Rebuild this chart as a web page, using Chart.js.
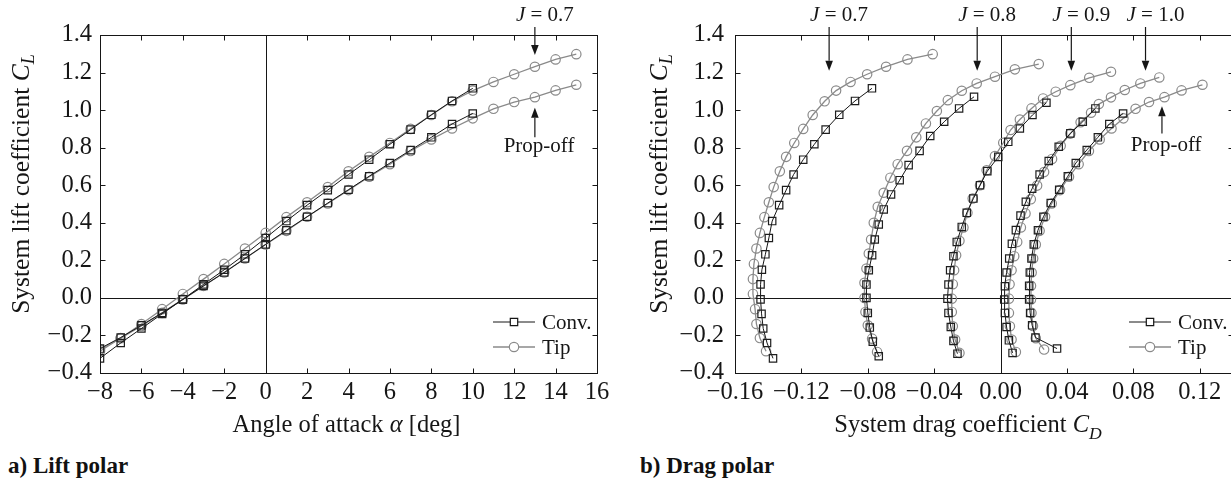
<!DOCTYPE html>
<html>
<head>
<meta charset="utf-8">
<title>Lift and drag polars</title>
<script src="https://cdn.jsdelivr.net/npm/chart.js@4.4.1/dist/chart.umd.min.js"></script>
<style>
  html, body { margin: 0; padding: 0; background: #fff; overflow: hidden; width: 1231px; height: 483px; }
  .pane { position: absolute; top: 0; }
  #lift-pane { left: 0; }
  #drag-pane { left: 620px; }
  .caption { position: absolute; top: 454px; font: bold 23px "Liberation Serif", serif; color: #111; line-height: 1; }
</style>
</head>
<body>
<div class="pane" id="lift-pane"><canvas id="lift" width="620" height="445"></canvas></div>
<div class="pane" id="drag-pane"><canvas id="drag" width="620" height="445"></canvas></div>
<div class="caption" style="left:8px">a) Lift polar</div>
<div class="caption" style="left:640px">b) Drag polar</div>
<script>
// angle of attack sweeps
const alphaConv = [-8, -7, -6, -5, -4, -3, -2, -1, 0, 1, 2, 3, 4, 5, 6, 7, 8, 9, 10];
const alphaTip = [-8, -7, -6, -5, -4, -3, -2, -1, 0, 1, 2, 3, 4, 5, 6, 7, 8, 9, 10, 11, 12, 13, 14, 15];

// J = 0.7
const clConvJ07 = [-0.322, -0.240, -0.163, -0.085, -0.008, 0.072, 0.150, 0.232, 0.319, 0.409, 0.494, 0.574, 0.657, 0.736, 0.818, 0.896, 0.975, 1.049, 1.116];
const cdConvJ07 = [-0.1371, -0.1407, -0.1430, -0.1440, -0.1446, -0.1446, -0.1438, -0.1417, -0.1396, -0.1376, -0.1334, -0.1292, -0.1247, -0.1189, -0.1122, -0.1054, -0.0972, -0.0877, -0.0775];
const clTipJ07 = [-0.284, -0.214, -0.139, -0.060, 0.021, 0.100, 0.181, 0.263, 0.346, 0.430, 0.509, 0.590, 0.674, 0.751, 0.825, 0.900, 0.974, 1.047, 1.104, 1.150, 1.191, 1.231, 1.270, 1.298];
const cdTipJ07 = [-0.1413, -0.1450, -0.1471, -0.1479, -0.1492, -0.1492, -0.1486, -0.1471, -0.1450, -0.1423, -0.1396, -0.1367, -0.1330, -0.1292, -0.1243, -0.1189, -0.1132, -0.1060, -0.0991, -0.0904, -0.0804, -0.0690, -0.0561, -0.0409];

// J = 0.8
const clConvJ08 = [-0.311, -0.233, -0.158, -0.080, 0.000, 0.071, 0.147, 0.227, 0.311, 0.391, 0.471, 0.551, 0.627, 0.707, 0.783, 0.862, 0.938, 1.009, 1.071];
const cdConvJ08 = [-0.0734, -0.0770, -0.0788, -0.0800, -0.0808, -0.0808, -0.0794, -0.0774, -0.0758, -0.0734, -0.0704, -0.0660, -0.0608, -0.0554, -0.0488, -0.0424, -0.0340, -0.0250, -0.0160];
const clTipJ08 = [-0.288, -0.217, -0.146, -0.075, 0.000, 0.080, 0.156, 0.236, 0.311, 0.400, 0.485, 0.560, 0.640, 0.712, 0.783, 0.855, 0.929, 0.995, 1.053, 1.103, 1.142, 1.178, 1.217, 1.245];
const cdTipJ08 = [-0.0744, -0.0774, -0.0800, -0.0814, -0.0820, -0.0820, -0.0808, -0.0794, -0.0780, -0.0764, -0.0740, -0.0704, -0.0664, -0.0620, -0.0564, -0.0508, -0.0450, -0.0384, -0.0318, -0.0234, -0.0144, -0.0034, 0.0086, 0.0230];

// J = 0.9
const clConvJ09 = [-0.297, -0.229, -0.155, -0.080, -0.004, 0.071, 0.147, 0.222, 0.298, 0.378, 0.453, 0.529, 0.600, 0.675, 0.751, 0.831, 0.902, 0.974, 1.039];
const cdConvJ09 = [-0.0260, -0.0284, -0.0300, -0.0314, -0.0320, -0.0314, -0.0304, -0.0284, -0.0264, -0.0234, -0.0204, -0.0164, -0.0124, -0.0080, -0.0014, 0.0046, 0.0116, 0.0192, 0.0276];
const clTipJ09 = [-0.293, -0.222, -0.151, -0.075, -0.004, 0.073, 0.147, 0.227, 0.304, 0.375, 0.453, 0.529, 0.600, 0.680, 0.755, 0.826, 0.894, 0.950, 1.009, 1.062, 1.098, 1.133, 1.172, 1.204];
const cdTipJ09 = [-0.0248, -0.0274, -0.0288, -0.0294, -0.0294, -0.0288, -0.0280, -0.0268, -0.0248, -0.0224, -0.0200, -0.0168, -0.0124, -0.0084, -0.0034, 0.0016, 0.0060, 0.0116, 0.0186, 0.0256, 0.0332, 0.0420, 0.0534, 0.0665];

// J = 1.0
const clConvJ10 = [-0.293, -0.226, -0.155, -0.080, -0.009, 0.062, 0.135, 0.210, 0.288, 0.361, 0.438, 0.512, 0.582, 0.657, 0.729, 0.805, 0.876, 0.938, 1.009];
const cdConvJ10 = [0.0072, 0.0050, 0.0036, 0.0026, 0.0022, 0.0026, 0.0036, 0.0052, 0.0068, 0.0092, 0.0120, 0.0152, 0.0190, 0.0235, 0.0290, 0.0350, 0.0420, 0.0495, 0.0571];
const clTipJ10 = [-0.288, -0.222, -0.151, -0.080, -0.004, 0.072, 0.147, 0.222, 0.298, 0.375, 0.450, 0.525, 0.598, 0.670, 0.740, 0.810, 0.875, 0.935, 0.986, 1.032, 1.068, 1.107, 1.142, 1.174];
const cdTipJ10 = [0.0092, 0.0066, 0.0056, 0.0050, 0.0050, 0.0054, 0.0066, 0.0082, 0.0100, 0.0122, 0.0150, 0.0182, 0.0220, 0.0262, 0.0310, 0.0362, 0.0420, 0.0482, 0.0545, 0.0592, 0.0665, 0.0748, 0.0842, 0.0956];

// propeller off
const clConvOff = [-0.270, -0.211, -0.146, -0.080, -0.008, 0.064, 0.135, 0.210, 0.285, 0.360, 0.432, 0.505, 0.576, 0.648, 0.718, 0.787, 0.855, 0.926, 0.982];
const cdConvOff = [0.0340, 0.0210, 0.0190, 0.0178, 0.0172, 0.0172, 0.0176, 0.0186, 0.0200, 0.0225, 0.0258, 0.0302, 0.0353, 0.0405, 0.0453, 0.0519, 0.0586, 0.0655, 0.0738];
const clTipOff = [-0.275, -0.215, -0.150, -0.080, -0.008, 0.064, 0.135, 0.210, 0.284, 0.357, 0.432, 0.503, 0.574, 0.645, 0.712, 0.782, 0.844, 0.902, 0.956, 1.007, 1.043, 1.069, 1.105, 1.135];
const cdTipOff = [0.0262, 0.0212, 0.0195, 0.0186, 0.0183, 0.0183, 0.0187, 0.0196, 0.0212, 0.0235, 0.0268, 0.0308, 0.0358, 0.0412, 0.0470, 0.0532, 0.0597, 0.0668, 0.0740, 0.0813, 0.0894, 0.0987, 0.1090, 0.1216];

// axis ticks
const alphaTicks = [-8, -6, -4, -2, 0, 2, 4, 6, 8, 10, 12, 14, 16];
const cdTicks = [-0.16, -0.12, -0.08, -0.04, 0, 0.04, 0.08, 0.12];
const clTicks = [-0.4, -0.2, 0, 0.2, 0.4, 0.6, 0.8, 1.0, 1.2, 1.4];

const advanceRatios = ['0.7', '0.8', '0.9', '1.0'];
const legendLabels = ['Conv.', 'Tip'];

const SERIF = '"Liberation Serif", "Times New Roman", serif';
const INK = '#161616';
const GREY = '#8a8a8a';
const TICK_SIZE = 24.5;
const TITLE_SIZE = 24.5;
const NOTE_SIZE = 21;

function minusFmt(v, digits) {
  const s = Math.abs(v).toFixed(digits);
  return (v < -1e-9 ? '\u2212' : '') + s;
}

function series(xs, ys, conv) {
  return {
    data: xs.map((x, i) => ({ x, y: ys[i] })),
    showLine: true,
    tension: 0,
    borderColor: conv ? INK : GREY,
    borderWidth: conv ? 1 : 1.3,
    pointStyle: conv ? 'rect' : 'circle',
    pointRadius: conv ? 5.2 : 4.7,
    pointBorderColor: conv ? '#1e1e1e' : GREY,
    pointBorderWidth: 1.2,
    pointBackgroundColor: 'rgba(0,0,0,0)',
    pointHoverRadius: 0
  };
}

function setFont(ctx, size, italic) {
  ctx.font = (italic ? 'italic ' : '') + size + 'px ' + SERIF;
}

// rich text: parts = [{t, it, sub}], drawn centred on x unless align is 'left'
function richWidth(ctx, parts, size) {
  let w = 0;
  parts.forEach(p => { setFont(ctx, p.sub ? size * 0.72 : size, p.it); w += ctx.measureText(p.t).width; });
  return w;
}
function drawRich(ctx, parts, x, y, size, align) {
  let cx = align === 'left' ? x : x - richWidth(ctx, parts, size) / 2;
  ctx.textAlign = 'left';
  parts.forEach(p => {
    const s = p.sub ? size * 0.72 : size;
    setFont(ctx, s, p.it);
    ctx.fillText(p.t, cx, y + (p.sub ? size * 0.3 : 0));
    cx += ctx.measureText(p.t).width;
  });
}

function arrow(ctx, x, yFrom, yTo) {
  const dir = yTo > yFrom ? 1 : -1;
  const head = 10;
  ctx.beginPath();
  ctx.moveTo(x, yFrom);
  ctx.lineTo(x, yTo - dir * head);
  ctx.stroke();
  ctx.beginPath();
  ctx.moveTo(x, yTo);
  ctx.lineTo(x - 3.8, yTo - dir * head);
  ctx.lineTo(x + 3.8, yTo - dir * head);
  ctx.closePath();
  ctx.fill();
}

const polarFrame = {
  id: 'polarFrame',
  beforeDatasetsDraw(chart) {
    const { ctx, chartArea: a, scales: { x, y } } = chart;
    ctx.save();
    ctx.strokeStyle = INK;
    ctx.lineWidth = 1;
    const x0 = Math.round(x.getPixelForValue(0)) + 0.5;
    const y0 = Math.round(y.getPixelForValue(0)) + 0.5;
    ctx.beginPath();
    ctx.moveTo(x0, a.top); ctx.lineTo(x0, a.bottom);
    ctx.moveTo(a.left, y0); ctx.lineTo(a.right, y0);
    ctx.stroke();
    ctx.restore();
  },
  afterDraw(chart, args, o) {
    const { ctx, chartArea: a, scales: { x, y } } = chart;
    ctx.save();
    ctx.strokeStyle = INK;
    ctx.fillStyle = INK;
    ctx.lineWidth = 1;

    // box with inward ticks on all four sides
    const L = Math.round(a.left) + 0.5, R = Math.round(a.right) + 0.5;
    const T = Math.round(a.top) + 0.5, B = Math.round(a.bottom) + 0.5;
    ctx.strokeRect(L, T, R - L, B - T);
    ctx.beginPath();
    o.xTicks.forEach(v => {
      const px = Math.round(x.getPixelForValue(v)) + 0.5;
      ctx.moveTo(px, B); ctx.lineTo(px, B - 5);
      ctx.moveTo(px, T); ctx.lineTo(px, T + 5);
    });
    clTicks.forEach(v => {
      const py = Math.round(y.getPixelForValue(v)) + 0.5;
      ctx.moveTo(L, py); ctx.lineTo(L + 5, py);
      ctx.moveTo(R, py); ctx.lineTo(R - 5, py);
    });
    ctx.stroke();

    // axis titles
    ctx.textBaseline = 'alphabetic';
    drawRich(ctx, o.xTitle, (a.left + a.right) / 2 + o.xTitleShift, 432, TITLE_SIZE);
    ctx.save();
    ctx.translate(o.yTitleX, 184);
    ctx.rotate(-Math.PI / 2);
    ctx.textBaseline = 'middle';
    drawRich(ctx, [{ t: 'System lift coefficient ' }, { t: 'C', it: true }, { t: 'L', it: true, sub: true }], 0, 0, 25.5);
    ctx.restore();

    // advance-ratio call-outs
    ctx.lineWidth = 1.2;
    ctx.textBaseline = 'middle';
    o.jNotes.forEach(n => {
      const px = x.getPixelForValue(n.x);
      arrow(ctx, px, a.top - 8, y.getPixelForValue(n.tip));
      drawRich(ctx, [{ t: 'J', it: true }, { t: ' = ' + n.j }], px - 19, a.top - 20, NOTE_SIZE, 'left');
    });
    const off = o.offNote;
    const ox = x.getPixelForValue(off.x);
    arrow(ctx, ox, y.getPixelForValue(off.tail), y.getPixelForValue(off.tip));
    setFont(ctx, NOTE_SIZE, false);
    ctx.textAlign = 'center';
    ctx.fillText('Prop-off', x.getPixelForValue(off.textX), y.getPixelForValue(off.textY));

    // legend
    const rows = [a.bottom - 51, a.bottom - 26];
    rows.forEach((ry, i) => {
      const conv = i === 0;
      ctx.strokeStyle = conv ? INK : GREY;
      ctx.lineWidth = conv ? 1 : 1.3;
      ctx.beginPath();
      ctx.moveTo(a.right - 104, ry); ctx.lineTo(a.right - 62, ry);
      ctx.stroke();
      ctx.lineWidth = 1.2;
      ctx.beginPath();
      if (conv) ctx.rect(a.right - 83 - 3.7, ry - 3.7, 7.4, 7.4);
      else ctx.arc(a.right - 83, ry, 4.7, 0, Math.PI * 2);
      ctx.fillStyle = '#fff';
      ctx.fill();
      ctx.stroke();
      ctx.fillStyle = INK;
      setFont(ctx, NOTE_SIZE, false);
      ctx.textAlign = 'left';
      ctx.fillText(legendLabels[i], a.right - 55, ry + 1);
    });
    ctx.restore();
  }
};

function makeOptions(cfg) {
  return {
    responsive: false,
    animation: false,
    events: [],
    layout: { padding: { left: 0, right: cfg.padRight, top: 35, bottom: 0 } },
    plugins: {
      legend: { display: false },
      tooltip: { enabled: false },
      polarFrame: cfg.frame
    },
    scales: {
      x: {
        type: 'linear', min: cfg.xMin, max: cfg.xMax,
        grid: { display: false, drawTicks: false }, border: { display: false },
        afterBuildTicks: s => { s.ticks = cfg.frame.xTicks.map(v => ({ value: v })); },
        afterFit: s => { s.height = 72; },
        ticks: { autoSkip: false, maxRotation: 0, padding: 5, color: INK,
                 font: { family: SERIF, size: TICK_SIZE }, callback: v => minusFmt(v, cfg.xDigits) }
      },
      y: {
        type: 'linear', min: -0.4, max: 1.4,
        grid: { display: false, drawTicks: false }, border: { display: false },
        afterBuildTicks: s => { s.ticks = clTicks.map(v => ({ value: v })); },
        afterFit: s => { s.width = cfg.yWidth; },
        ticks: { autoSkip: false, padding: cfg.yPad, color: INK,
                 font: { family: SERIF, size: TICK_SIZE }, callback: v => minusFmt(v, 1) }
      }
    }
  };
}

new Chart(document.getElementById('lift'), {
  type: 'scatter',
  data: {
    datasets: [
      series(alphaConv, clConvJ07, true),
      series(alphaConv, clConvOff, true),
      series(alphaTip, clTipJ07, false),
      series(alphaTip, clTipOff, false)
    ]
  },
  options: makeOptions({
    xMin: -8, xMax: 16, xDigits: 0, padRight: 23, yWidth: 100, yPad: 8,
    frame: {
      xTicks: alphaTicks,
      xTitle: [{ t: 'Angle of attack ' }, { t: '\u03b1', it: true }, { t: ' [deg]' }],
      xTitleShift: -2,
      yTitleX: 22,
      jNotes: [{ j: advanceRatios[0], x: 13, tip: 1.293 }],
      offNote: { x: 13, tip: 1.012, tail: 0.855, textX: 13.2, textY: 0.805 }
    }
  }),
  plugins: [polarFrame]
});

new Chart(document.getElementById('drag'), {
  type: 'scatter',
  data: {
    datasets: [
      series(cdConvJ07, clConvJ07, true),
      series(cdConvJ08, clConvJ08, true),
      series(cdConvJ09, clConvJ09, true),
      series(cdConvJ10, clConvJ10, true),
      series(cdConvOff, clConvOff, true),
      series(cdTipJ07, clTipJ07, false),
      series(cdTipJ08, clTipJ08, false),
      series(cdTipJ09, clTipJ09, false),
      series(cdTipJ10, clTipJ10, false),
      series(cdTipOff, clTipOff, false)
    ]
  },
  options: makeOptions({
    xMin: -0.16, xMax: 0.14, xDigits: 2, padRight: 7, yWidth: 115, yPad: 11,
    frame: {
      xTicks: cdTicks,
      xTitle: [{ t: 'System drag coefficient ' }, { t: 'C', it: true }, { t: 'D', it: true, sub: true }],
      xTitleShift: -16,
      yTitleX: 40,
      jNotes: [
        { j: advanceRatios[0], x: -0.1033, tip: 1.21 },
        { j: advanceRatios[1], x: -0.0141, tip: 1.21 },
        { j: advanceRatios[2], x: 0.0426, tip: 1.21 },
        { j: advanceRatios[3], x: 0.0873, tip: 1.21 }
      ],
      offNote: { x: 0.0972, tip: 1.021, tail: 0.876, textX: 0.0997, textY: 0.81 }
    }
  }),
  plugins: [polarFrame]
});
</script>
</body>
</html>
